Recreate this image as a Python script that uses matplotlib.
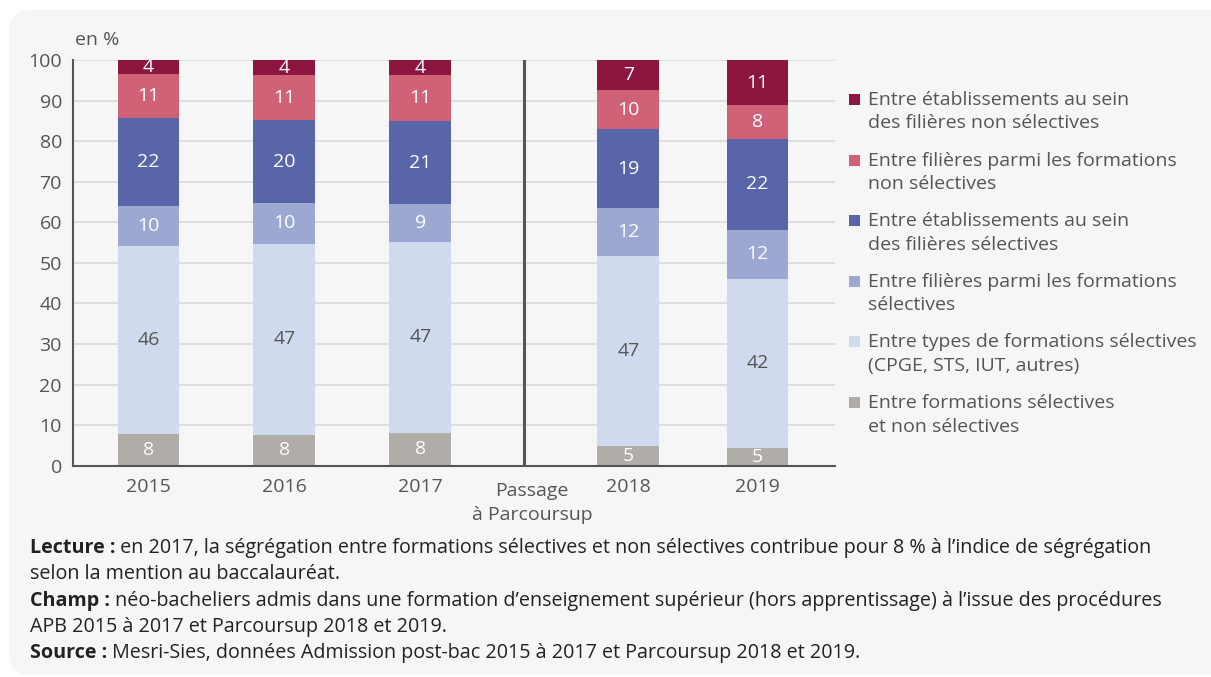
import numpy as np
import matplotlib.pyplot as plt
from matplotlib.patches import FancyBboxPatch, Rectangle

plt.rcParams['font.family'] = ['Open Sans', 'DejaVu Sans']

# data
years = ["2015", "2016", "2017", "2018", "2019"]
# stacked from bottom to top
grey_vals = [7.8, 7.6, 8.1, 4.9, 4.4]
light_blue_vals = [46.4, 47.1, 47.1, 46.9, 41.7]
mid_blue_vals = [9.9, 10.0, 9.2, 11.8, 12.0]
dark_blue_vals = [21.5, 20.4, 20.5, 19.3, 22.5]
pink_vals = [10.9, 11.1, 11.3, 9.6, 8.2]
crimson_vals = [3.5, 3.8, 3.8, 7.5, 11.2]

grey_lbl = [8, 8, 8, 5, 5]
light_blue_lbl = [46, 47, 47, 47, 42]
mid_blue_lbl = [10, 10, 9, 12, 12]
dark_blue_lbl = [22, 20, 21, 19, 22]
pink_lbl = [11, 11, 11, 10, 8]
crimson_lbl = [4, 4, 4, 7, 11]

series_names = [
    "Entre établissements au sein\ndes filières non sélectives",
    "Entre filières parmi les formations\nnon sélectives",
    "Entre établissements au sein\ndes filières sélectives",
    "Entre filières parmi les formations\nsélectives",
    "Entre types de formations sélectives\n(CPGE, STS, IUT, autres)",
    "Entre formations sélectives\net non sélectives",
]

colors = ["#b0ada8", "#cfdaee", "#9ca8d1", "#5865a8", "#d06278", "#8c1640"]
text_colors = ["white", "#555555", "white", "white", "white", "white"]

stack_vals = [grey_vals, light_blue_vals, mid_blue_vals, dark_blue_vals, pink_vals, crimson_vals]
stack_lbls = [grey_lbl, light_blue_lbl, mid_blue_lbl, dark_blue_lbl, pink_lbl, crimson_lbl]

FS = 14
W, H = 1211, 677
fig = plt.figure(figsize=(W / 100, H / 100), dpi=100)
fig.patch.set_facecolor("white")

# rounded light grey panel
panel = FancyBboxPatch((9 / W, 2 / H), 1.2, 665 / H,
                       boxstyle="round,pad=0,rounding_size=0.018",
                       transform=fig.transFigure, facecolor="#f6f6f6",
                       edgecolor="none", mutation_aspect=W / H, zorder=-5)
fig.patches.append(panel)

ax = fig.add_axes([73 / W, 1 - 465.7 / H, (835 - 73) / W, (465.7 - 60) / H])
ax.set_facecolor("none")

xpos = np.array([0, 1, 2, 3.53, 4.48])
bar_w = 0.455
bottom = np.zeros(len(years))
for vals, lbls, col, tcol in zip(stack_vals, stack_lbls, colors, text_colors):
    vals = np.array(vals)
    ax.bar(xpos, vals, bar_w, bottom=bottom, color=col, zorder=3)
    for x, b, v, l in zip(xpos, bottom, vals, lbls):
        ax.text(x, b + v / 2, str(l), ha="center", va="center",
                fontsize=FS, color=tcol, zorder=4)
    bottom += vals

ax.set_xlim(-0.555, 5.05)
ax.set_ylim(0, 100)
ax.set_yticks(range(0, 101, 10))
ax.set_xticks(xpos)
ax.set_xticklabels(years)
ax.tick_params(axis="both", labelsize=FS, colors="#555555", length=0)
ax.tick_params(axis="y", pad=8)
ax.tick_params(axis="x", pad=9)
ax.grid(axis="y", color="#d9d9d9", linewidth=1.2, zorder=1)
for s in ["top", "right"]:
    ax.spines[s].set_visible(False)
for s in ["left", "bottom"]:
    ax.spines[s].set_color("#555555")
    ax.spines[s].set_linewidth(1.5)
    ax.spines[s].set_zorder(5)

# Parcoursup separator
ax.axvline(2.76, ymin=0, ymax=1, color="#555555", linewidth=2.2, zorder=5)
fig.text(532 / W, 1 - 491 / H, "Passage", ha="center", va="center",
         fontsize=FS, color="#555555")
fig.text(532 / W, 1 - 515 / H, "à Parcoursup", ha="center", va="center",
         fontsize=FS, color="#555555")

fig.text(75 / W, 1 - 40 / H, "en %", ha="left", va="center",
         fontsize=FS, color="#555555")

# legend (top to bottom)
leg_colors = colors[::-1]
for i, (name, col) in enumerate(zip(series_names, leg_colors)):
    y0 = 100 + i * 60.6
    fig.patches.append(Rectangle((849 / W, 1 - (y0 + 5) / H), 11 / W, 11 / H,
                                 transform=fig.transFigure, facecolor=col,
                                 edgecolor="none"))
    line1, line2 = name.split("\n")
    fig.text(868 / W, 1 - y0 / H, line1, ha="left", va="center",
             fontsize=FS, color="#555555")
    fig.text(868 / W, 1 - (y0 + 23.5) / H, line2, ha="left", va="center",
             fontsize=FS, color="#555555")

# footnotes
notes = [
    ("Lecture :", " en 2017, la ségrégation entre formations sélectives et non sélectives contribue pour 8 % à l’indice de ségrégation", 548),
    ("", "selon la mention au baccalauréat.", 574),
    ("Champ :", " néo-bacheliers admis dans une formation d’enseignement supérieur (hors apprentissage) à l’issue des procédures", 601),
    ("", "APB 2015 à 2017 et Parcoursup 2018 et 2019.", 627),
    ("Source :", " Mesri-Sies, données Admission post-bac 2015 à 2017 et Parcoursup 2018 et 2019.", 653),
]
FN = 14.2
fig.canvas.draw()
renderer = fig.canvas.get_renderer()
for bold, rest, y in notes:
    x = 30 / W
    if bold:
        t = fig.text(x, 1 - y / H, bold, ha="left", va="center", fontsize=FN,
                     fontweight="bold", color="#222222")
        bb = t.get_window_extent(renderer=renderer)
        x = bb.x1 / W
    fig.text(x, 1 - y / H, rest, ha="left", va="center", fontsize=FN,
             color="#222222")

fig.savefig("out.png", dpi=100, facecolor="white")
